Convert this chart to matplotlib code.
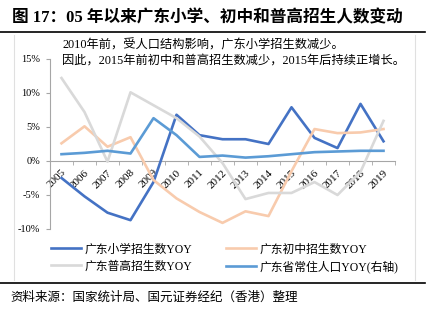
import matplotlib.pyplot as plt

plt.rcParams['font.family'] = ['Liberation Serif', 'Noto Sans CJK SC']

years = [str(y) for y in range(2005, 2020)]
primary = [-2.5, -5.2, -7.6, -8.7, -3.1, 6.8, 3.8, 3.2, 3.2, 2.5, 7.9, 3.4, 1.9, 8.4, 2.9]
junior = [2.6, 5.1, 2.1, 3.5, -2.8, -5.5, -7.5, -9.1, -7.4, -8.1, -1.5, 4.7, 4.1, 4.2, 4.7]
senior = [12.2, 7.2, -0.1, 10.1, 8.2, 6.3, 3.6, -0.3, -5.6, -4.7, -4.7, -3.1, -5.0, -1.6, 5.9]
population = [1.0, 1.2, 1.5, 1.1, 6.3, 3.8, 0.6, 0.8, 0.5, 0.7, 1.0, 1.3, 1.4, 1.5, 1.5]

yticks = [-10, -5, 0, 5, 10, 15]

fig = plt.figure(figsize=(4.4, 3.24), dpi=100)
ax = fig.add_axes([50 / 440, 1 - 229 / 324, 345 / 440, 170 / 324])
ax2 = ax.twinx()

x = range(len(years))
l1, = ax.plot(x, primary, color='#4472C4', lw=1.9)
l2, = ax.plot(x, junior, color='#F8CBAD', lw=1.9)
l3, = ax.plot(x, senior, color='#D9D9D9', lw=1.9)
l4, = ax2.plot(x, population, color='#5B9BD5', lw=1.9)

for a in (ax, ax2):
    a.set_ylim(-10, 15)
    a.set_xlim(-0.5, len(years) - 0.5)
ax2.set_yticks([])
for s in ax2.spines.values():
    s.set_visible(False)

ax.set_yticks(yticks)
ax.set_yticklabels([f'{v}%' for v in yticks], fontsize=7.5)
ax.tick_params(axis='y', length=3, color='#A6A6A6', pad=4)
for s in ['top', 'right']:
    ax.spines[s].set_visible(False)
ax.spines['left'].set_color('#A6A6A6')
ax.spines['bottom'].set_position(('data', 0))
ax.spines['bottom'].set_color('#A6A6A6')
ax.spines['bottom'].set_zorder(0)

ax.set_xticks(list(x))
ax.set_xticklabels(years, rotation=45, ha='right', rotation_mode='anchor', fontsize=8)
ax.tick_params(axis='x', length=0, pad=5)
ax.set_xticks([i + 0.5 for i in range(len(years) - 1)] + [-0.5, len(years) - 0.5], minor=True)
ax.tick_params(axis='x', which='minor', length=3, color='#A6A6A6')

fig.text(62 / 440, 1 - 53 / 324, '2010年前，受人口结构影响，广东小学招生数减少。\n因此，2015年前初中和普高招生数减少，2015年后持续正增长。',
         fontsize=8.8, va='center', ha='left', linespacing=1.3)

fig.legend([l1, l3, l2, l4], ['广东小学招生数YOY', '广东普高招生数YOY', '广东初中招生数YOY', '广东省常住人口YOY(右轴)'],
           loc='upper left', bbox_to_anchor=(40 / 440, 1 - 233 / 324), ncol=2, frameon=False,
           fontsize=8.5, handlelength=2.6, handletextpad=0.3, columnspacing=2.8, labelspacing=0.4)

fig.text(12 / 440, 1 - 18 / 324, '图 17：05 年以来广东小学、初中和普高招生人数变动', fontsize=12,
         fontweight='bold', va='center', ha='left')
fig.add_artist(plt.Line2D([0, 425 / 440], [1 - 32 / 324] * 2, color='black', lw=1.2))
fig.add_artist(plt.Line2D([0, 425 / 440], [1 - 283 / 324] * 2, color='black', lw=1.2))
fig.add_artist(plt.Line2D([14 / 440] * 2, [1 - 35 / 324, 1 - 280 / 324], color='#E0E0E0', lw=0.8))
fig.add_artist(plt.Line2D([415 / 440] * 2, [1 - 35 / 324, 1 - 280 / 324], color='#E0E0E0', lw=0.8))
fig.text(10 / 440, 1 - 298 / 324, '资料来源：国家统计局、国元证券经纪（香港）整理', fontsize=9,
         style='italic', va='center', ha='left')

fig.savefig('out.png', dpi=100)
